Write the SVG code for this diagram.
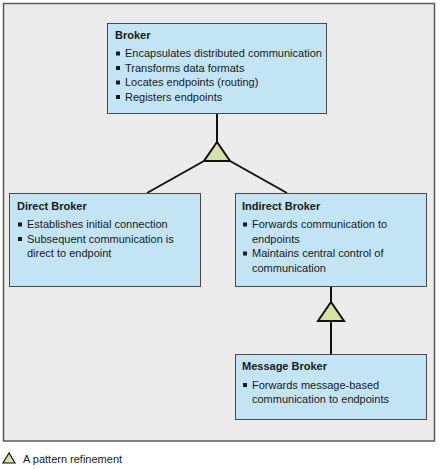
<svg xmlns="http://www.w3.org/2000/svg" width="440" height="470" viewBox="0 0 440 470">
<defs>
<style>
.frame{fill:#ebebeb;stroke:#5a5a5a;stroke-width:1.5}
.box{fill:#c2e4f4;stroke:#4a4a4a;stroke-width:1}
.title{font-family:"Liberation Sans",Arial,sans-serif;font-size:11px;font-weight:bold;fill:#1a1a1a}
.txt{font-family:"Liberation Sans",Arial,sans-serif;font-size:11px;fill:#1a1a1a}
.bul{fill:#1a1a1a}
.line{stroke:#111;stroke-width:2;fill:none}
.tri{fill:#d3e3a6;stroke:#111;stroke-width:2;stroke-linejoin:miter}
</style>
</defs>
<rect class="frame" x="3.5" y="3.5" width="431" height="437.5"/>
<g id="connectors">
<line class="line" x1="217" y1="113" x2="217" y2="142"/>
<line class="line" x1="204" y1="161" x2="147" y2="193"/>
<line class="line" x1="230" y1="161" x2="287" y2="193"/>
<polygon class="tri" points="217,142 204,161 230,161"/>
<line class="line" x1="331" y1="287" x2="331" y2="302"/>
<line class="line" x1="331" y1="321" x2="331" y2="354"/>
<polygon class="tri" points="331,302 318,321 344,321"/>
</g>
<g id="broker">
<rect class="box" x="107.5" y="23.5" width="219" height="90"/>
<text class="title" x="115" y="39">Broker</text>
<rect class="bul" x="116" y="51.5" width="4" height="4"/>
<text class="txt" x="125" y="57">Encapsulates distributed communication</text>
<rect class="bul" x="116" y="66" width="4" height="4"/>
<text class="txt" x="125" y="71.5">Transforms data formats</text>
<rect class="bul" x="116" y="80.5" width="4" height="4"/>
<text class="txt" x="125" y="86">Locates endpoints (routing)</text>
<rect class="bul" x="116" y="95" width="4" height="4"/>
<text class="txt" x="125" y="100.5">Registers endpoints</text>
</g>
<g id="direct-broker">
<rect class="box" x="9.5" y="193.5" width="191" height="93"/>
<text class="title" x="17" y="210">Direct Broker</text>
<rect class="bul" x="18" y="222.5" width="4" height="4"/>
<text class="txt" x="27" y="228">Establishes initial connection</text>
<rect class="bul" x="18" y="237" width="4" height="4"/>
<text class="txt" x="27" y="242.5">Subsequent communication is</text>
<text class="txt" x="27" y="257">direct to endpoint</text>
</g>
<g id="indirect-broker">
<rect class="box" x="235.5" y="193.5" width="191" height="93"/>
<text class="title" x="242" y="210">Indirect Broker</text>
<rect class="bul" x="243" y="222.5" width="4" height="4"/>
<text class="txt" x="252" y="228">Forwards communication to</text>
<text class="txt" x="252" y="242.5">endpoints</text>
<rect class="bul" x="243" y="251.5" width="4" height="4"/>
<text class="txt" x="252" y="257">Maintains central control of</text>
<text class="txt" x="252" y="271.5">communication</text>
</g>
<g id="message-broker">
<rect class="box" x="235.5" y="354.5" width="191" height="65"/>
<text class="title" x="242" y="370">Message Broker</text>
<rect class="bul" x="243" y="383" width="4" height="4"/>
<text class="txt" x="252" y="388.5">Forwards message-based</text>
<text class="txt" x="252" y="403">communication to endpoints</text>
</g>
<g id="legend">
<polygon points="9,453 3,463 15,463" fill="#d3e3a6" stroke="#111" stroke-width="1.2"/>
<text class="txt" x="23" y="463">A pattern refinement</text>
</g>
</svg>
